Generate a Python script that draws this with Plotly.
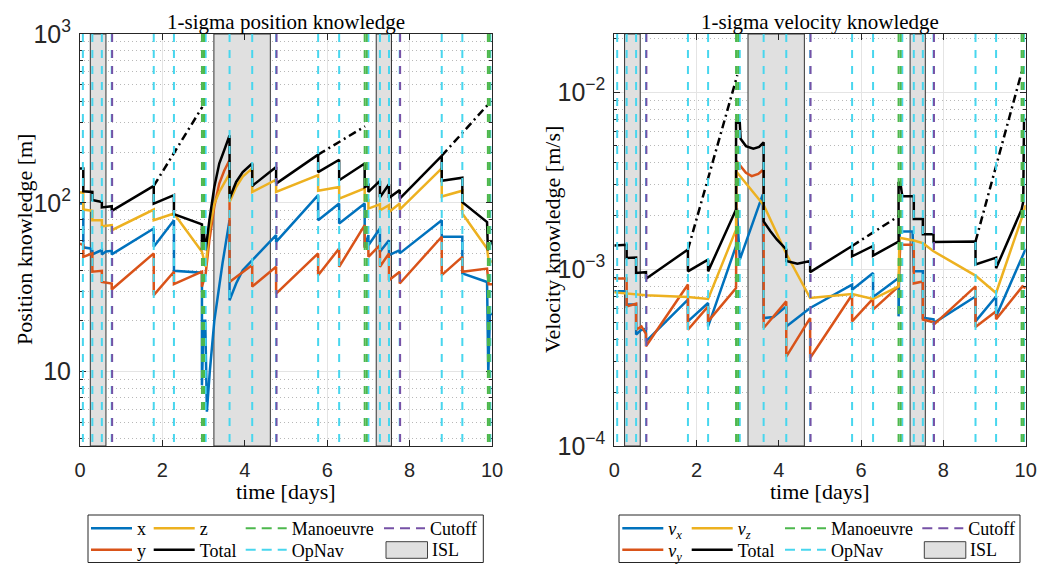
import plotly.graph_objects as go
import math

# ---------------- event data (days) ----------------
opnav_days = [0.07, 0.30, 0.53, 0.77, 1.79, 2.28, 3.05, 3.63, 4.18, 4.76, 5.78, 6.29,
              7.00, 7.28, 7.50, 7.76, 8.78, 9.28, 9.96]
manoeuvre_days = [2.96, 3.01, 6.91, 6.96, 9.90, 9.94]
cutoff_days = [0.78, 4.77, 7.77]
isl_start = [0.25, 3.25, 7.19]
isl_end = [0.63, 4.62, 7.56]

# ---------------- position knowledge [m] ----------------
pos_total_t = [0, 0.08, 0.08, 0.30, 0.30, 0.53, 0.53, 0.77, 0.77, 1.79, 1.79, 2.28, 2.28,
               2.96, 2.96, 3.01, 3.05, 3.14, 3.26, 3.38, 3.50, 3.63, 3.63, 3.79, 3.95, 4.18,
               4.18, 4.76, 4.76, 5.78, 5.78, 6.29, 6.29, 6.91, 6.91, 7.00, 7.00, 7.28, 7.28,
               7.50, 7.50, 7.76, 7.76, 8.78, 8.78, 9.28, 9.28, 9.88, 9.90, 9.96, 10.0]
pos_total = [160, 160, 117, 116, 104, 101, 94, 95.5, 89.7, 126, 99, 111, 85.7,
             74.5, 52.5, 65.8, 52.5, 78.9, 124, 171, 205, 251, 106, 133, 152, 171,
             126, 163, 130, 193, 152, 180, 136, 171, 124, 127, 116, 135, 108,
             129, 107, 119, 106, 190, 135, 141, 101, 77, 52.5, 57.4, 60]

pos_z_t = [0, 0.08, 0.08, 0.30, 0.30, 0.53, 0.53, 0.77, 0.77, 1.79, 1.79, 2.28, 2.96, 3.05,
           3.14, 3.26, 3.38, 3.50, 3.63, 3.63, 3.79, 3.95, 4.18, 4.18, 4.76, 4.76, 5.78, 5.78,
           6.29, 6.29, 6.91, 6.91, 7.00, 7.00, 7.28, 7.28, 7.50, 7.50, 7.76, 7.76, 8.78, 8.78,
           9.28, 9.28, 9.88, 9.92, 10.0]
pos_z = [115, 115, 91.2, 89.7, 78.9, 78.9, 72.7, 73.8, 68.9, 91.2, 78.9, 86.5, 51.3, 41.8,
         68.9, 99, 116, 130, 149, 101, 124, 143, 160, 116, 137, 116, 146, 118,
         124, 106, 122, 104, 104, 92.5, 98, 90.4, 97, 88.4, 99, 91.2, 160, 109,
         118, 86.5, 53.7, 45, 45]

pos_x_t = [0, 0.08, 0.08, 0.25, 0.30, 0.30, 0.45, 0.53, 0.53, 0.63, 0.77, 0.77, 1.79, 1.79,
           2.28, 2.28, 2.96, 2.96, 3.00, 3.04, 3.08, 3.15, 3.26, 3.36, 3.46, 3.55, 3.63, 3.63,
           3.79, 3.95, 4.18, 4.76, 4.76, 5.78, 5.78, 6.29, 6.29, 6.91, 6.91, 7.00, 7.00, 7.28,
           7.28, 7.50, 7.50, 7.76, 7.76, 8.78, 8.78, 9.28, 9.28, 9.88, 9.91, 9.95, 10.0]
pos_x = [99, 99, 54.5, 53.7, 52, 49.5, 51.5, 52.5, 49.5, 51.5, 52, 49.5, 70.5, 55,
         78.9, 39.6, 38.6, 8.3, 20, 20, 5.8, 10, 20, 30, 44, 60, 79, 26.5,
         33.3, 39.9, 45.8, 64.4, 58.7, 111, 78.9, 99, 75.5, 99, 55, 64.4, 56.1, 70.5,
         51.3, 60.1, 49, 52.5, 50.2, 78.9, 63, 63, 38.2, 34, 9.8, 22, 22]

pos_y_t = [0, 0.08, 0.08, 0.30, 0.30, 0.53, 0.53, 0.77, 0.77, 1.79, 1.79, 2.28, 2.28, 2.96,
           2.96, 3.05, 3.14, 3.26, 3.38, 3.50, 3.63, 3.63, 4.18, 4.18, 4.76, 4.76, 5.78, 5.78,
           6.29, 6.29, 6.91, 6.91, 7.00, 7.00, 7.28, 7.28, 7.50, 7.50, 7.76, 7.76, 8.78, 8.78,
           9.28, 9.28, 9.88, 9.92, 10.0]
pos_y = [57.4, 56.1, 47.9, 50.2, 39.1, 39.6, 34, 33.3, 30.7, 50.2, 28.4, 39.1, 33, 39.1,
         31.9, 38, 60, 95, 130, 155, 179, 34, 42.8, 31.9, 41.8, 29, 50.2, 37.3,
         53.7, 41.8, 73.8, 55, 55, 47.9, 56.1, 41.8, 50.2, 34.8, 39.1, 33.3, 63, 37.3,
         47.9, 39.1, 40.8, 33, 33]

pos_pred_t = [1.79, 2.97, None, 5.78, 6.92, None, 8.78, 9.94]
pos_pred = [126, 370, None, 193, 284, None, 190, 391]

# ---------------- velocity knowledge [m/s] ----------------
vel_total_t = [0, 0.30, 0.30, 0.53, 0.53, 0.77, 0.77, 1.79, 1.79, 2.28, 2.28, 2.96, 2.96,
               3.05, 3.07, 3.20, 3.38, 3.52, 3.63, 3.63, 3.79, 3.95, 4.18, 4.18, 4.45, 4.76,
               4.76, 5.78, 5.78, 6.29, 6.29, 6.91, 6.91, 6.96, 7.00, 7.28, 7.28, 7.50, 7.50,
               7.76, 7.76, 8.78, 8.78, 9.28, 9.28, 9.90, 9.94, 9.96, 10.0]
vel_total = [1.36e-3, 1.37e-3, 1.156e-3, 1.16e-3, 9.5e-4, 9.6e-4, 8.8e-4, 1.29e-3, 9.7e-4,
             1.13e-3, 9.7e-4, 2.17e-3, 6.7e-3, 6.7e-3, 5.44e-3, 4.95e-3, 4.79e-3, 4.9e-3,
             5.2e-3, 1.86e-3, 1.64e-3, 1.47e-3, 1.29e-3, 1.11e-3, 1.07e-3, 1.11e-3, 9.6e-4,
             1.35e-3, 1.18e-3, 1.35e-3, 1.19e-3, 1.43e-3, 3.1e-3, 3.0e-3, 2.58e-3, 2.58e-3,
             1.92e-3, 1.92e-3, 1.57e-3, 1.57e-3, 1.42e-3, 1.43e-3, 1.06e-3, 1.16e-3, 1.01e-3,
             2.17e-3, 2.4e-3, 7.0e-3, 7.0e-3]

vel_pred_t = [1.79, 2.99, None, 5.78, 6.91, None, 8.78, 9.93]
vel_pred = [1.29e-3, 1.245e-2, None, 1.35e-3, 1.99e-3, None, 1.43e-3, 1.37e-2]

vel_z_t = [0, 0.77, 1.79, 2.28, 2.96, 2.96, 3.63, 4.18, 4.76, 5.78, 6.29, 6.91, 6.93, 7.28,
           7.50, 7.76, 8.78, 9.28, 9.92, 10.0]
vel_z = [7.38e-4, 7.1e-4, 6.95e-4, 6.78e-4, 1.67e-3, 3.57e-3, 2.3e-3, 1.22e-3, 6.86e-4,
         7.23e-4, 6.77e-4, 7.98e-4, 1.5e-3, 1.45e-3, 1.4e-3, 1.26e-3, 9.18e-4, 7.32e-4,
         1.99e-3, 2.3e-3]

vel_x_t = [0, 0.25, 0.30, 0.30, 0.53, 0.53, 0.64, 0.77, 0.77, 1.79, 1.79, 2.28, 2.28, 2.96,
           2.98, 3.05, 3.61, 3.63, 3.87, 4.18, 4.18, 4.76, 5.78, 5.78, 6.29, 6.29, 6.91, 6.91,
           6.94, 7.25, 7.28, 7.50, 7.50, 7.76, 7.76, 8.78, 8.78, 9.28, 9.28, 9.92, 10.0]
vel_x = [7.48e-4, 7.48e-4, 7.4e-4, 6.3e-4, 6.3e-4, 4.26e-4, 4.5e-4, 4.6e-4, 3.9e-4, 6.72e-4,
         5.06e-4, 6.43e-4, 4.74e-4, 1.35e-3, 2.2e-3, 1.13e-3, 2.64e-3, 5.28e-4, 5.35e-4,
         6.15e-4, 4.74e-4, 6.02e-4, 8.17e-4, 7.64e-4, 9.5e-4, 6.95e-4, 8.9e-4, 5.4e-4,
         1.63e-3, 1.63e-3, 9.7e-4, 9.7e-4, 5.3e-4, 5.2e-4, 4.95e-4, 7.0e-4, 5.06e-4, 7.0e-4,
         5.4e-4, 1.2e-3, 1.3e-3]

vel_y_t = [0, 0.30, 0.30, 0.53, 0.53, 0.66, 0.77, 0.77, 1.79, 1.79, 2.28, 2.28, 2.96, 2.97,
           3.20, 3.34, 3.50, 3.63, 3.63, 4.18, 4.18, 4.76, 4.76, 5.78, 5.78, 6.29, 6.29, 6.91,
           6.95, 7.28, 7.28, 7.50, 7.50, 7.76, 7.76, 8.78, 8.78, 9.28, 9.28, 9.92, 10.0]
vel_y = [8.83e-4, 8.83e-4, 6.15e-4, 6.37e-4, 4.54e-4, 4.74e-4, 4.3e-4, 3.66e-4, 8.17e-4,
         4.54e-4, 6.15e-4, 5.06e-4, 7.8e-4, 4.07e-3, 3.5e-3, 3.35e-3, 3.45e-3, 3.66e-3,
         4.64e-4, 6.56e-4, 3.2e-4, 5.28e-4, 3.14e-4, 7.16e-4, 5.06e-4, 6.8e-4, 5.9e-4,
         7.98e-4, 1.37e-3, 1.37e-3, 8.3e-4, 8.5e-4, 5.18e-4, 5.0e-4, 4.84e-4, 7.98e-4,
         4.7e-4, 5.77e-4, 5.2e-4, 7.98e-4, 7.8e-4]

pos_range = [math.log10(3.63), 3]
vel_range = [-4, -1.672]

# ---------------- styling ----------------
# the page body adds an 8px margin, so the figure is made 8px smaller on each side
OFF = 8
W, H = 1053 - OFF, 565 - OFF
C_X, C_Y, C_Z, C_T = "#0072BD", "#D95319", "#EDB120", "#000000"
C_MAN, C_OPN, C_CUT = "#4DB84D", "#48D6EE", "#7651A6"
ISL_FILL, ISL_EDGE = "#E0E0E0", "#333333"
SERIF = "Liberation Serif"
SANS = "Liberation Sans"
LW = 2.5


def px(v):
    return (v - OFF) / W


def py(v):
    return 1 - (v - OFF) / H


fig = go.Figure()

panels = [
    dict(xa="x", ya="y", rng=pos_range, leg0=1,
         series=[("x", pos_x_t, pos_x, C_X), ("y", pos_y_t, pos_y, C_Y),
                 ("z", pos_z_t, pos_z, C_Z), ("Total", pos_total_t, pos_total, C_T)],
         pred=(pos_pred_t, pos_pred),
         cols=[92, 154.7, 246.7, 385], box=[88, 483.3], isl_txt=430),
    dict(xa="x2", ya="y2", rng=vel_range, leg0=8,
         series=[("<i>v</i><sub><i>x</i></sub>", vel_x_t, vel_x, C_X),
                 ("<i>v</i><sub><i>y</i></sub>", vel_y_t, vel_y, C_Y),
                 ("<i>v</i><sub><i>z</i></sub>", vel_z_t, vel_z, C_Z),
                 ("Total", vel_total_t, vel_total, C_T)],
         pred=(vel_pred_t, vel_pred),
         cols=[623.3, 692.7, 786, 923.3], box=[619, 1020], isl_txt=968),
]

ROW1, ROW2 = 528.5, 550
legends = {}
shapes = []
annotations = []

for p in panels:
    xa, ya = p["xa"], p["ya"]
    yref = ya + " domain"
    lo, hi = 10 ** p["rng"][0], 10 ** p["rng"][1]
    # ISL shading (drawn as filled traces so they sit above the grid, below the data)
    for s, e in zip(isl_start, isl_end):
        fig.add_trace(go.Scatter(x=[s, e, e, s, s], y=[lo, lo, hi, hi, lo], mode="lines",
                                 fill="toself", fillcolor=ISL_FILL,
                                 line=dict(color=ISL_EDGE, width=1),
                                 xaxis=xa, yaxis=ya, showlegend=False, hoverinfo="skip"))
    # data series
    positions = [(0, ROW1), (0, ROW2), (1, ROW1), (1, ROW2)]
    for i, (name, t, v, c) in enumerate(p["series"]):
        lname = "legend" if p["leg0"] + i == 1 else "legend%d" % (p["leg0"] + i)
        col, row = positions[i]
        legends[lname] = (p["cols"][col], row)
        fig.add_trace(go.Scatter(x=t, y=v, mode="lines", name=name,
                                 line=dict(color=c, width=LW),
                                 xaxis=xa, yaxis=ya, legend=lname))
    fig.add_trace(go.Scatter(x=p["pred"][0], y=p["pred"][1], mode="lines",
                             line=dict(color="black", width=LW, dash="8px,4px,2px,4px"),
                             xaxis=xa, yaxis=ya, showlegend=False, connectgaps=False))
    # event markers legend entries
    ev = [("Manoeuvre", C_MAN, 2, ROW1), ("OpNav", C_OPN, 2, ROW2), ("Cutoff", C_CUT, 3, ROW1)]
    for j, (name, c, col, row) in enumerate(ev):
        lname = "legend%d" % (p["leg0"] + 4 + j)
        legends[lname] = (p["cols"][col], row)
        fig.add_trace(go.Scatter(x=[None], y=[None], mode="lines", name=name,
                                 line=dict(color=c, width=2, dash="10px,6px"),
                                 xaxis=xa, yaxis=ya, legend=lname))
    # vertical event lines
    for days, c in [(opnav_days, C_OPN), (manoeuvre_days, C_MAN), (cutoff_days, C_CUT)]:
        for d in days:
            shapes.append(dict(type="line", xref=xa, yref=yref, x0=d, x1=d, y0=1, y1=0,
                               line=dict(color=c, width=2, dash="8px,8px"), layer="above"))
    # legend frame and ISL legend patch
    shapes.append(dict(type="rect", xref="paper", yref="paper",
                       x0=px(p["box"][0]), x1=px(p["box"][1]), y0=py(562.5), y1=py(515),
                       line=dict(color="#262626", width=1), fillcolor="rgba(0,0,0,0)"))
    c4 = p["cols"][3]
    shapes.append(dict(type="rect", xref="paper", yref="paper",
                       x0=px(c4 + 1), x1=px(c4 + 42.5), y0=py(558.3), y1=py(541.7),
                       line=dict(color="#404040", width=1), fillcolor=ISL_FILL))
    annotations.append(dict(text="ISL", xref="paper", yref="paper", x=px(p["isl_txt"]),
                            y=py(ROW2), xanchor="left", yanchor="middle", showarrow=False,
                            font=dict(family=SERIF, size=18, color="black")))

for lname, (cx, cy) in legends.items():
    fig.update_layout({lname: dict(x=px(cx - 6), y=py(cy), xanchor="left", yanchor="middle",
                                   bgcolor="rgba(0,0,0,0)", borderwidth=0, itemwidth=41,
                                   font=dict(family=SERIF, size=18, color="black"),
                                   orientation="v")})

# titles and axis labels
for text, x, y, ang, fs in [("1-sigma position knowledge", 286, 21.5, 0, 21),
                            ("1-sigma velocity knowledge", 820, 21.5, 0, 21),
                            ("time [days]", 286, 491, 0, 22),
                            ("time [days]", 820, 491, 0, 22),
                            ("Position knowledge [m]", 25, 240, -90, 22),
                            ("Velocity knowledge [m/s]", 553, 240, -90, 22)]:
    annotations.append(dict(text=text, xref="paper", yref="paper", x=px(x), y=py(y),
                            xanchor="center", yanchor="middle", showarrow=False, textangle=ang,
                            font=dict(family=SERIF, size=fs, color="black")))

axis_common = dict(showline=True, linecolor="#262626", linewidth=1, mirror="ticks",
                   ticks="inside", ticklen=6, tickcolor="#262626", showgrid=True,
                   gridcolor="#E4E4E4", gridwidth=1, zeroline=False, automargin=False,
                   tickfont=dict(family=SANS, size=20, color="#262626"))
xaxis_common = dict(axis_common, range=[0, 10], dtick=2, tick0=0, ticklabelstandoff=6)
yminor = dict(ticks="inside", ticklen=3, tickcolor="#262626", dtick="D1", showgrid=True,
              griddash="1px,3px", gridcolor="#B8B8B8", gridwidth=1)
yaxis_common = dict(axis_common, type="log", dtick=1, exponentformat="power",
                    minor=yminor, ticklabelstandoff=4)

fig.update_layout(
    width=W, height=H, margin=dict(l=0, r=0, t=0, b=0, autoexpand=False),
    plot_bgcolor="white", paper_bgcolor="white",
    xaxis=dict(xaxis_common, domain=[px(80), px(492)], anchor="y"),
    yaxis=dict(yaxis_common, domain=[py(446), py(34)], anchor="x", range=pos_range),
    xaxis2=dict(xaxis_common, domain=[px(614.3), px(1025.7)], anchor="y2"),
    yaxis2=dict(yaxis_common, domain=[py(446), py(34)], anchor="x2", range=vel_range),
    shapes=shapes, annotations=annotations,
)

fig.write_html("out.html")
